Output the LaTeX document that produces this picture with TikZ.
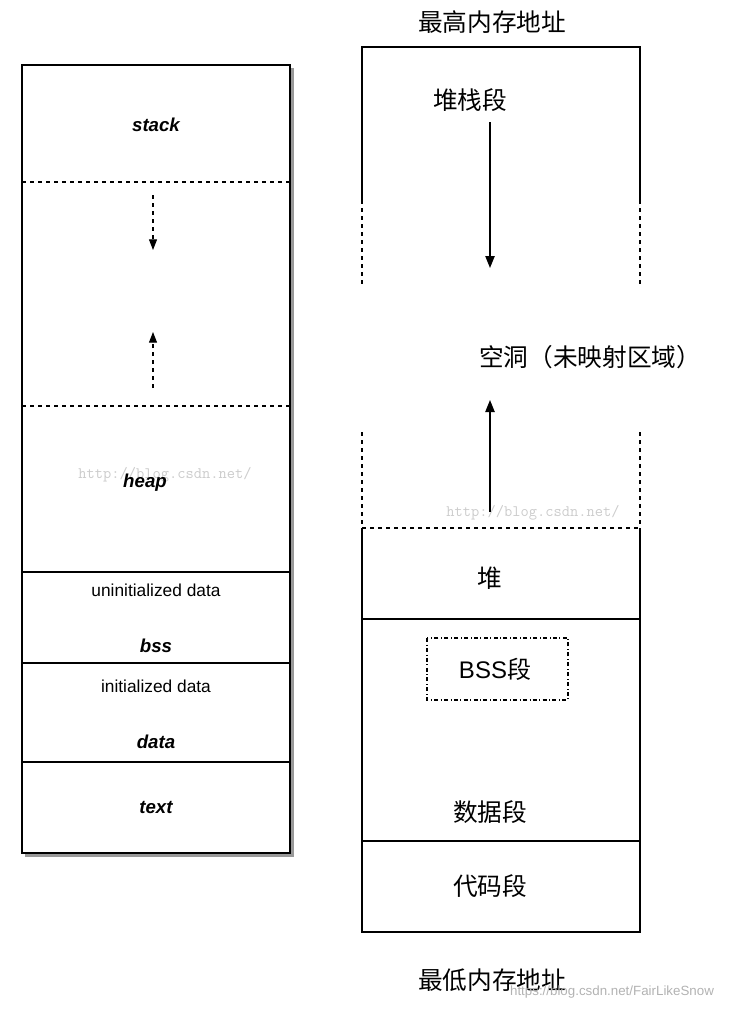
\documentclass[tikz,border=0pt]{standalone}
\usepackage{fontspec}
\setmainfont{Liberation Sans}
\newfontfamily\cjk{Noto Sans CJK SC}
\usetikzlibrary{arrows.meta}
\begin{document}
\begin{tikzpicture}[x=0.75pt,y=-0.75pt,
  lbl/.style={font=\bfseries\itshape\fontsize{14}{16}\selectfont},
  sm/.style={font=\fontsize{13}{15}\selectfont},
  zh/.style={font=\cjk\fontsize{18.5}{21}\selectfont},
  wm/.style={font=\ttfamily\fontsize{12}{14}\selectfont,text=black!20},
  arr/.style={-{Triangle[length=9pt,width=7pt]},line width=1pt},
  darr/.style={-{Triangle[length=8pt,width=6pt]},dashed,line width=0.8pt}]
\useasboundingbox (0,0) rectangle (730,1010);
% left column
\fill[black!40] (25,68) rectangle (294,857);
\draw[line width=1pt,fill=white] (22,65) rectangle (290,853);
\draw[dashed,line width=0.8pt] (22,182) -- (290,182);
\draw[dashed,line width=0.8pt] (22,406) -- (290,406);
\draw[line width=0.8pt] (22,572) -- (290,572);
\draw[line width=0.8pt] (22,663) -- (290,663);
\draw[line width=0.8pt] (22,762) -- (290,762);
\node[wm] at (165,475) {http://blog.csdn.net/};
\node[lbl] (stack) at (156,125) {stack};
\node[lbl] (heap) at (145,483) {heap};
\node[sm] (uninit) at (156,590) {uninitialized data};
\node[lbl] (bss) at (156,646) {bss};
\node[sm] (init) at (156,686) {initialized data};
\node[lbl] (data) at (156,742) {data};
\node[lbl] (text) at (156,807) {text};
\coordinate (d1) at (153,195); \coordinate (d2) at (153,250);
\coordinate (u1) at (153,388); \coordinate (u2) at (153,332);
\draw[darr] (d1) -- (d2);
\draw[darr] (u1) -- (u2);
% right column
\node[zh] (hi) at (492,22) {最高内存地址};
\draw[line width=0.8pt] (362,200) -- (362,47) -- (640,47) -- (640,200);
\draw[dashed,line width=0.8pt] (362,200) -- (362,285);
\draw[dashed,line width=0.8pt] (640,200) -- (640,285);
\node[zh] (stk) at (470,100) {堆栈段};
\coordinate (a1) at (490,122); \coordinate (a2) at (490,268);
\draw[arr] (a1) -- (a2);
\node[zh] (hole) at (590,357) {空洞（未映射区域）};
\node[wm] at (533,513) {http://blog.csdn.net/};
\coordinate (b1) at (490,512); \coordinate (b2) at (490,400);
\draw[arr] (b1) -- (b2);
\draw[dashed,line width=0.8pt] (362,432) -- (362,528);
\draw[dashed,line width=0.8pt] (640,432) -- (640,528);
\draw[dashed,line width=0.8pt] (362,528) -- (640,528);
\draw[line width=0.8pt] (362,528) -- (362,932) -- (640,932) -- (640,528);
\draw[line width=0.8pt] (362,619) -- (640,619);
\draw[line width=0.8pt] (362,841) -- (640,841);
\node[zh] (heapz) at (490,578) {堆};
\draw[dash dot,line width=0.8pt] (427,638) rectangle (568,700);
\node[font=\fontsize{18}{20}\selectfont] (bssz) at (495,669) {BSS{\cjk 段}};
\node[zh] (dataz) at (490,812) {数据段};
\node[zh] (code) at (490,886) {代码段};
\node[zh] (lo) at (492,980) {最低内存地址};
\node[font=\fontsize{10}{12}\selectfont,text=black!30] at (612,992) {https://blog.csdn.net/FairLikeSnow};
\end{tikzpicture}
\end{document}
